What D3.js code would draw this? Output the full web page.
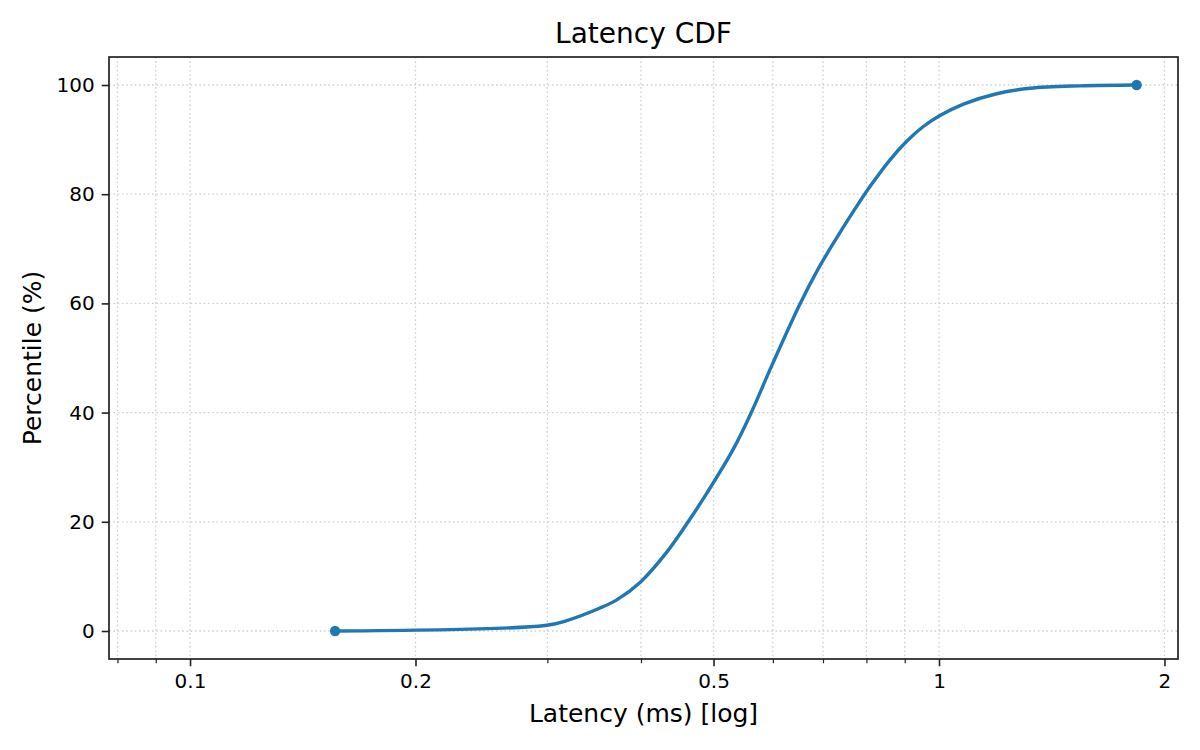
<!DOCTYPE html>
<html>
<head>
<meta charset="utf-8">
<title>Latency CDF</title>
<script src="https://d3js.org/d3.v7.min.js"></script>
<style>
  body { margin: 0; background: #fff; }
  text { font-family: "DejaVu Sans", sans-serif; fill: #000; }
</style>
</head>
<body>
<svg id="chart" width="1200" height="750"></svg>
<script>
// latency (ms), with the matching percentile
var latencyMs  = [0.1562, 0.2978, 0.3184, 0.3527, 0.3713, 0.3989, 0.4328, 0.4651, 0.4896,
                  0.5313, 0.5623, 0.5980, 0.6522, 0.6883, 0.7263, 0.7724, 0.8088, 0.8602,
                  0.9055, 0.9529, 1.003, 1.078, 1.194, 1.323, 1.543, 1.836];
var percentile = [0, 1, 1.9, 4.2, 5.7, 8.9, 14.4, 20.5, 25.2,
                  33.3, 40.2, 48.6, 59.9, 66.1, 71.5, 77.3, 81.4, 86.3,
                  89.7, 92.4, 94.4, 96.5, 98.4, 99.4, 99.85, 100];

var xMajorTicks = [0.1, 0.2, 0.5, 1, 2];
var xTickLabels = ["0.1", "0.2", "0.5", "1", "2"];
var xMinorTicks = [0.08, 0.09, 0.3, 0.4, 0.6, 0.7, 0.8, 0.9];
var yTicks = [0, 20, 40, 60, 80, 100];

var data = latencyMs.map(function(d, i) { return {lat: d, p: percentile[i]}; });

var svg = d3.select("#chart"),
    margin = {top: 57, right: 22, bottom: 91, left: 109},
    width = +svg.attr("width") - margin.left - margin.right,
    height = +svg.attr("height") - margin.top - margin.bottom,
    g = svg.append("g").attr("transform", "translate(" + margin.left + "," + margin.top + ")");

var x = d3.scaleLog()
    .domain([0.07795, 2.085])
    .range([0, width]);

var y = d3.scaleLinear()
    .domain([-5.13, 105.13])
    .range([height, 0]);

var gridColor = "#cfcfcf";

// grid: x major + minor, y major
g.append("g").selectAll("line")
    .data(xMajorTicks.concat(xMinorTicks))
  .enter().append("line")
    .attr("x1", function(d) { return x(d); })
    .attr("x2", function(d) { return x(d); })
    .attr("y1", 0).attr("y2", height)
    .attr("stroke", gridColor)
    .attr("stroke-width", 1.3)
    .attr("stroke-dasharray", "1.6,2.7");

g.append("g").selectAll("line")
    .data(yTicks)
  .enter().append("line")
    .attr("x1", 0).attr("x2", width)
    .attr("y1", function(d) { return y(d); })
    .attr("y2", function(d) { return y(d); })
    .attr("stroke", gridColor)
    .attr("stroke-width", 1.3)
    .attr("stroke-dasharray", "1.6,2.7");

// axes
var xAxis = g.append("g")
    .attr("transform", "translate(0," + height + ")")
    .call(d3.axisBottom(x)
      .tickValues(xMajorTicks)
      .tickFormat(function(d, i) { return xTickLabels[i]; })
      .tickSizeInner(7.3).tickSizeOuter(0).tickPadding(7));
xAxis.select(".domain").remove();
xAxis.selectAll("line").attr("stroke", "#222").attr("stroke-width", 1.6);
xAxis.selectAll("text").attr("font-size", 20).attr("font-family", "DejaVu Sans");

var xMinor = g.append("g")
    .attr("transform", "translate(0," + height + ")")
    .call(d3.axisBottom(x).tickValues(xMinorTicks).tickFormat("").tickSizeInner(4.2).tickSizeOuter(0));
xMinor.select(".domain").remove();
xMinor.selectAll("line").attr("stroke", "#222").attr("stroke-width", 1.2);

var yAxis = g.append("g")
    .call(d3.axisLeft(y)
      .tickValues(yTicks)
      .tickSizeInner(7.3).tickSizeOuter(0).tickPadding(7));
yAxis.select(".domain").remove();
yAxis.selectAll("line").attr("stroke", "#222").attr("stroke-width", 1.6);
yAxis.selectAll("text").attr("font-size", 20).attr("font-family", "DejaVu Sans");

// frame
g.append("rect")
    .attr("width", width)
    .attr("height", height)
    .attr("fill", "none")
    .attr("stroke", "#222")
    .attr("stroke-width", 1.7);

// curve
var line = d3.line()
    .x(function(d) { return x(d.lat); })
    .y(function(d) { return y(d.p); })
    .curve(d3.curveCatmullRom.alpha(0.5));

g.append("path")
    .datum(data)
    .attr("fill", "none")
    .attr("stroke", "#1f77b4")
    .attr("stroke-width", 3.4)
    .attr("stroke-linejoin", "round")
    .attr("stroke-linecap", "round")
    .attr("d", line);

// end markers
g.selectAll(".dot")
    .data([data[0], data[data.length - 1]])
  .enter().append("circle")
    .attr("class", "dot")
    .attr("cx", function(d) { return x(d.lat); })
    .attr("cy", function(d) { return y(d.p); })
    .attr("r", 5.2)
    .attr("fill", "#1f77b4");

// labels
svg.append("text")
    .attr("x", margin.left + width / 2)
    .attr("y", 43)
    .attr("text-anchor", "middle")
    .attr("font-size", 28)
    .text("Latency CDF");

svg.append("text")
    .attr("x", margin.left + width / 2)
    .attr("y", 722)
    .attr("text-anchor", "middle")
    .attr("font-size", 25)
    .text("Latency (ms) [log]");

svg.append("text")
    .attr("transform", "translate(41," + (margin.top + height / 2) + ") rotate(-90)")
    .attr("text-anchor", "middle")
    .attr("font-size", 25)
    .text("Percentile (%)");
</script>
</body>
</html>
